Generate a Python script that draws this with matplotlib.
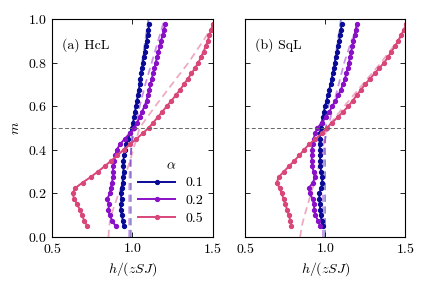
import numpy as np
import matplotlib
matplotlib.use("Agg")
import matplotlib.pyplot as plt

plt.rcParams['font.family'] = 'serif'
plt.rcParams['font.serif'] = ['cmr10', 'DejaVu Serif']
plt.rcParams['mathtext.fontset'] = 'cm'
plt.rcParams['axes.formatter.use_mathtext'] = True
plt.rcParams['font.size'] = 10

# magnetisation grid of the simulation points
m = [0.05, 0.075, 0.1, 0.125, 0.15, 0.175, 0.2, 0.225, 0.25, 0.275,
     0.3, 0.325, 0.35, 0.375, 0.4, 0.425, 0.45, 0.475, 0.5, 0.525,
     0.55, 0.575, 0.6, 0.625, 0.65, 0.675, 0.7, 0.725, 0.75, 0.775,
     0.8, 0.825, 0.85, 0.875, 0.9, 0.925, 0.95, 0.975]

alphas = ['0.1', '0.2', '0.5']

# (a) HcL, simulation
hcl_01 = [0.945, 0.94, 0.935, 0.926, 0.93, 0.932, 0.927, 0.932, 0.94, 0.94,
          0.945, 0.944, 0.944, 0.948, 0.953, 0.96, 0.972, 0.985, 0.996, 1.004,
          1.01, 1.016, 1.022, 1.028, 1.034, 1.04, 1.045, 1.05, 1.055, 1.06,
          1.065, 1.07, 1.076, 1.082, 1.088, 1.094, 1.099, 1.104]
hcl_02 = [0.895, 0.875, 0.858, 0.85, 0.855, 0.843, 0.86, 0.865, 0.872, 0.88,
          0.878, 0.88, 0.885, 0.893, 0.903, 0.922, 0.952, 0.983, 1.012, 1.03,
          1.045, 1.06, 1.075, 1.088, 1.095, 1.105, 1.112, 1.12, 1.128, 1.137,
          1.145, 1.153, 1.162, 1.17, 1.178, 1.187, 1.195, 1.204]
hcl_05 = [0.72, 0.70, 0.688, 0.673, 0.657, 0.638, 0.628, 0.645, 0.69, 0.74,
          0.785, 0.828, 0.868, 0.907, 0.945, 0.985, 1.025, 1.063, 1.10, 1.13,
          1.158, 1.186, 1.214, 1.242, 1.27, 1.296, 1.32, 1.344, 1.367, 1.39,
          1.41, 1.427, 1.442, 1.456, 1.468, 1.479, 1.49, 1.50]

# (b) SqL, simulation
sql_01 = [0.985, 0.978, 0.972, 0.969, 0.968, 0.965, 0.963, 0.977, 0.983, 0.98,
          0.975, 0.971, 0.969, 0.969, 0.968, 0.966, 0.966, 0.968, 0.975, 0.98,
          0.986, 0.993, 1.0, 1.009, 1.018, 1.026, 1.034, 1.041, 1.048, 1.055,
          1.061, 1.068, 1.075, 1.082, 1.088, 1.094, 1.099, 1.104]
sql_02 = [0.97, 0.955, 0.94, 0.932, 0.93, 0.922, 0.905, 0.898, 0.925, 0.935,
          0.928, 0.92, 0.917, 0.917, 0.918, 0.922, 0.928, 0.938, 0.952, 0.98,
          1.005, 1.027, 1.045, 1.065, 1.083, 1.098, 1.112, 1.124, 1.133, 1.141,
          1.149, 1.156, 1.163, 1.17, 1.177, 1.184, 1.191, 1.198]
sql_05 = [0.79, 0.783, 0.773, 0.763, 0.752, 0.741, 0.728, 0.716, 0.698, 0.71,
          0.742, 0.775, 0.808, 0.84, 0.868, 0.9, 0.94, 0.98, 1.01, 1.045,
          1.08, 1.113, 1.146, 1.172, 1.198, 1.224, 1.25, 1.28, 1.31, 1.34,
          1.37, 1.393, 1.415, 1.437, 1.457, 1.475, 1.492, 1.508]

# theory curves (dashed)
m_th = [0.0, 0.05, 0.1, 0.15, 0.2, 0.25, 0.3, 0.35, 0.4, 0.45,
        0.5, 0.6, 0.7, 0.8, 0.9, 1.0]
hcl_th_01 = [0.99, 0.99, 0.99, 0.99, 0.99, 0.99, 0.99, 0.99, 0.992, 0.997,
             1.005, 1.02, 1.04, 1.06, 1.08, 1.10]
hcl_th_02 = [0.98, 0.98, 0.98, 0.98, 0.98, 0.981, 0.983, 0.986, 0.992, 1.002,
             1.015, 1.045, 1.08, 1.12, 1.16, 1.20]
hcl_th_05 = [0.851, 0.855, 0.868, 0.89, 0.915, 0.94, 0.963, 0.985, 1.005, 1.025,
             1.044, 1.142, 1.245, 1.349, 1.44, 1.53]
sql_th_01 = [1.0, 1.0, 1.0, 1.0, 1.0, 1.0, 1.0, 1.0, 1.0, 1.001,
             1.005, 1.02, 1.04, 1.06, 1.08, 1.10]
sql_th_02 = [0.987, 0.987, 0.987, 0.987, 0.987, 0.987, 0.987, 0.988, 0.992, 1.0,
             1.02, 1.05, 1.085, 1.12, 1.165, 1.23]
sql_th_05 = [0.844, 0.854, 0.872, 0.892, 0.912, 0.933, 0.952, 0.97, 0.985, 0.995,
             1.01, 1.12, 1.235, 1.35, 1.455, 1.56]

colors = ['#0a0a96', '#8a10c8', '#d9467a']

fig = plt.figure(figsize=(4.3, 2.86), dpi=100)
ax_a = fig.add_axes([0.121, 0.171, 0.374, 0.763])
ax_b = fig.add_axes([0.570, 0.171, 0.372, 0.763])

panels = [
    (ax_a, '(a) HcL', [hcl_01, hcl_02, hcl_05], [hcl_th_01, hcl_th_02, hcl_th_05]),
    (ax_b, '(b) SqL', [sql_01, sql_02, sql_05], [sql_th_01, sql_th_02, sql_th_05]),
]

for ax, label, sims, ths in panels:
    for h_th, c in zip(ths, colors):
        ax.plot(h_th, m_th, '--', color=c, alpha=0.45, lw=1.3, dashes=(4, 2.5))
    for h, c, a in zip(sims, colors, alphas):
        ax.plot(h, m, '-o', color=c, lw=1.4, ms=2.8, label=a)
    ax.axhline(0.5, color='0.4', ls='--', lw=0.7, dashes=(4, 2.5))
    ax.set_xlim(0.5, 1.5)
    ax.set_ylim(0.0, 1.0)
    ax.set_xticks([0.5, 1.0, 1.5])
    ax.set_yticks([0.0, 0.2, 0.4, 0.6, 0.8, 1.0])
    ax.tick_params(direction='in', top=True, right=True, length=3.5, width=0.6)
    for s in ax.spines.values():
        s.set_linewidth(0.8)
    ax.set_xlabel('$h/(zSJ)$', labelpad=3)
    ax.text(0.06, 0.865, label, transform=ax.transAxes, fontsize=10)

ax_a.set_ylabel('$m$')
ax_b.set_yticklabels([])

ax_a.legend(title=r'$\alpha$', loc='lower right', frameon=False,
            bbox_to_anchor=(1.02, 0.0), handlelength=2.6, fontsize=10,
            title_fontsize=10, labelspacing=0.35)

fig.savefig('out.png', dpi=100)
